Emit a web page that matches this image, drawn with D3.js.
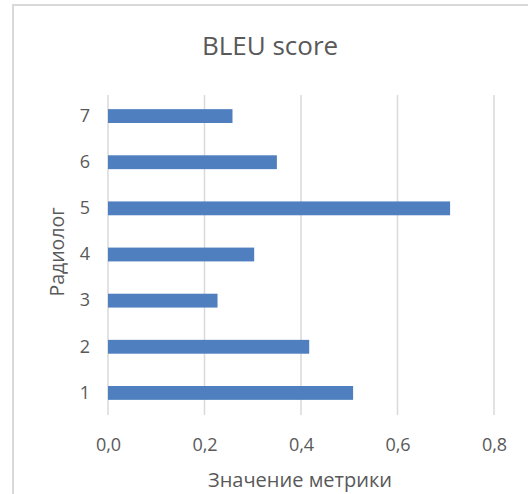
<!DOCTYPE html>
<html>
<head>
<meta charset="utf-8">
<script src="https://cdn.jsdelivr.net/npm/d3@7"></script>
<style>
    html, body { margin: 0; padding: 0; background: #ffffff; }
    svg { display: block; }
    text { font-family: "Open Sans", "Noto Sans", sans-serif; fill: #595959; }
</style>
</head>
<body>
<svg id="chart" width="528" height="494"></svg>
<script>

// Data.
const radiologists = ["1", "2", "3", "4", "5", "6", "7"];
const bleuScores = [0.508, 0.417, 0.227, 0.303, 0.709, 0.350, 0.258];
const xTicks = [0, 0.2, 0.4, 0.6, 0.8];

const chartTitle = "BLEU score";
const xTitle = "Значение метрики";
const yTitle = "Радиолог";

const svg = d3.select("#chart");
const WIDTH = 528, HEIGHT = 494;

// Plot area.
const margin = { top: 93, right: 34, bottom: 78, left: 108 };

// Outer frame (only left and top edges are visible in the crop).
svg.append("line")
    .attr("x1", 13).attr("x2", 13).attr("y1", 5).attr("y2", HEIGHT)
    .attr("stroke", "#d9d9d9").attr("stroke-width", 2);
svg.append("line")
    .attr("x1", 12).attr("x2", WIDTH).attr("y1", 5).attr("y2", 5)
    .attr("stroke", "#d9d9d9").attr("stroke-width", 2);

// Scales.
const x = d3.scaleLinear()
    .domain([0, 0.8])
    .range([margin.left, WIDTH - margin.right]);

const y = d3.scaleBand()
    .domain(radiologists.slice().reverse())
    .range([margin.top, HEIGHT - margin.bottom])
    .paddingInner(0.7)
    .paddingOuter(0.35);

// Gridlines.
svg.append("g")
    .selectAll("line")
    .data(xTicks)
    .join("line")
    .attr("x1", d => x(d)).attr("x2", d => x(d))
    .attr("y1", margin.top + 2).attr("y2", HEIGHT - margin.bottom - 1)
    .attr("stroke", "#d9d9d9")
    .attr("stroke-width", 1.5);

// Bars.
svg.append("g")
    .selectAll("rect")
    .data(radiologists.map((r, i) => ({ r: r, v: bleuScores[i] })))
    .join("rect")
    .attr("x", x(0))
    .attr("y", d => y(d.r))
    .attr("width", d => x(d.v) - x(0))
    .attr("height", y.bandwidth())
    .attr("fill", "#4f7fbe");

// X axis labels.
const xAxis = svg.append("g")
    .attr("transform", `translate(0, ${HEIGHT - margin.bottom + 19})`)
    .call(d3.axisBottom(x).tickValues(xTicks).tickSize(0)
        .tickFormat(d => d3.format(".1f")(d).replace(".", ",")));
xAxis.select(".domain").remove();
xAxis.selectAll("text")
    .attr("font-size", 18)
    .attr("font-family", null)
    .attr("dy", "0.71em");

// Y axis labels.
const yAxis = svg.append("g")
    .attr("transform", `translate(${margin.left - 18}, 0)`)
    .call(d3.axisLeft(y).tickSize(0).tickPadding(0));
yAxis.select(".domain").remove();
yAxis.selectAll("text")
    .attr("font-size", 18)
    .attr("font-family", null);

// Titles.
svg.append("text")
    .attr("x", 270).attr("y", 55)
    .attr("text-anchor", "middle")
    .attr("font-size", 26)
    .text(chartTitle);

svg.append("text")
    .attr("x", 300).attr("y", 487)
    .attr("text-anchor", "middle")
    .attr("font-size", 20)
    .text(xTitle);

svg.append("text")
    .attr("transform", `translate(64, 252) rotate(-90)`)
    .attr("text-anchor", "middle")
    .attr("font-size", 19.5)
    .text(yTitle);

</script>
</body>
</html>
